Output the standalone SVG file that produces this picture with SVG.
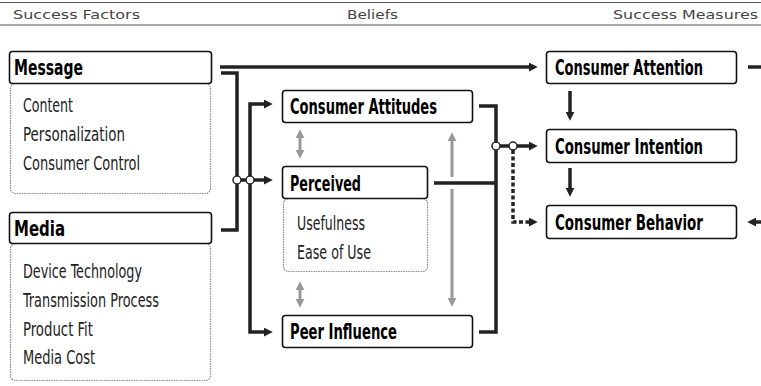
<svg xmlns="http://www.w3.org/2000/svg" width="761" height="386" viewBox="0 0 761 386">
<defs>
<marker id="ah" markerUnits="userSpaceOnUse" markerWidth="9" markerHeight="9" viewBox="0 0 8 8" refX="2" refY="4" orient="auto"><path d="M0,0 L8,4 L0,8 z" fill="#222"/></marker>
<marker id="ag" markerUnits="userSpaceOnUse" markerWidth="9" markerHeight="9" viewBox="0 0 8 8" refX="2" refY="4" orient="auto-start-reverse"><path d="M0,0 L8,4 L0,8 z" fill="#999"/></marker>
</defs>
<style>
.hd{font-family:"DejaVu Sans","Liberation Sans",sans-serif;font-size:13px;fill:#444}
.box{fill:#fff;stroke:#111;stroke-width:1.6}
.sub{fill:#fff;stroke:#888;stroke-width:1.2;stroke-dasharray:1.5 1}
.t{font-family:"DejaVu Sans Condensed","DejaVu Sans","Liberation Sans",sans-serif;font-weight:bold;font-size:16px;fill:#000}
.s{font-family:"DejaVu Sans Condensed","DejaVu Sans","Liberation Sans",sans-serif;font-size:19px;fill:#222}
.c{fill:none;stroke:#222;stroke-width:3.5}
.g{fill:none;stroke:#999;stroke-width:3}
.j{fill:#fff;stroke:#222;stroke-width:1.5}
</style>
<g id="header">
<line x1="0" y1="2.5" x2="761" y2="2.5" stroke="#555" stroke-width="1"/>
<line x1="0" y1="25" x2="761" y2="25" stroke="#555" stroke-width="1"/>
<text class="hd" x="13" y="19" textLength="127" lengthAdjust="spacingAndGlyphs">Success Factors</text>
<text class="hd" x="347" y="19" textLength="51" lengthAdjust="spacingAndGlyphs">Beliefs</text>
<text class="hd" x="613" y="19" textLength="145" lengthAdjust="spacingAndGlyphs">Success Measures</text>
</g>
<g id="connectors">
<path class="c" d="M220,67 H531" marker-end="url(#ah)"/>
<path class="c" d="M221,73 H237 V230 H221"/>
<path class="c" d="M250,180 V104 H266" marker-end="url(#ah)"/>
<path class="c" d="M250,180 V332 H266" marker-end="url(#ah)"/>
<path class="c" d="M237,180 H266" marker-end="url(#ah)"/>
<circle class="j" cx="237" cy="180" r="4"/>
<circle class="j" cx="250" cy="180" r="4"/>
<path class="c" d="M479,106 H496 V332 H479"/>
<path class="c" d="M434,183 H496"/>
<path class="c" d="M496,146 H531" marker-end="url(#ah)"/>
<path class="c" d="M513,150 V222 H531" stroke-dasharray="4 2.5" marker-end="url(#ah)"/>
<circle class="j" cx="496" cy="146" r="4"/>
<circle class="j" cx="513" cy="146" r="4"/>
<path class="c" d="M570,91 V114" marker-end="url(#ah)"/>
<path class="c" d="M570,168 V190" marker-end="url(#ah)"/>
<path class="c" d="M748,67 H761"/>
<path class="c" d="M761,222 H754" marker-end="url(#ah)"/>
<path class="g" d="M300,136 V152" marker-start="url(#ag)" marker-end="url(#ag)"/>
<path class="g" d="M300,288 V301" marker-start="url(#ag)" marker-end="url(#ag)"/>
<path class="g" d="M452,177 V139" marker-end="url(#ag)"/>
<path class="g" d="M452,189 V300" marker-end="url(#ag)"/>
</g>
<g id="message">
<rect class="sub" x="10.5" y="83.5" width="200" height="110" rx="5"/>
<rect class="box" x="9.5" y="51.5" width="202" height="32" rx="3"/>
<text class="t" transform="translate(14 75) scale(1 1.3)" textLength="69" lengthAdjust="spacingAndGlyphs">Message</text>
<text class="s" x="23" y="112" textLength="50" lengthAdjust="spacingAndGlyphs">Content</text>
<text class="s" x="23" y="141" textLength="102" lengthAdjust="spacingAndGlyphs">Personalization</text>
<text class="s" x="23" y="170" textLength="117" lengthAdjust="spacingAndGlyphs">Consumer Control</text>
</g>
<g id="media">
<rect class="sub" x="10.5" y="243.5" width="200" height="137" rx="5"/>
<rect class="box" x="9.5" y="212.5" width="202" height="31" rx="3"/>
<text class="t" transform="translate(14 236) scale(1 1.3)" textLength="51" lengthAdjust="spacingAndGlyphs">Media</text>
<text class="s" x="23" y="278" textLength="119" lengthAdjust="spacingAndGlyphs">Device Technology</text>
<text class="s" x="23" y="307" textLength="136" lengthAdjust="spacingAndGlyphs">Transmission Process</text>
<text class="s" x="23" y="336" textLength="70" lengthAdjust="spacingAndGlyphs">Product Fit</text>
<text class="s" x="23" y="364" textLength="72" lengthAdjust="spacingAndGlyphs">Media Cost</text>
</g>
<g id="attitudes">
<rect class="box" x="282.5" y="90.5" width="190" height="32" rx="3"/>
<text class="t" transform="translate(290 114) scale(1 1.3)" textLength="147" lengthAdjust="spacingAndGlyphs">Consumer Attitudes</text>
</g>
<g id="perceived">
<rect class="sub" x="283.5" y="198.5" width="144" height="73" rx="5"/>
<rect class="box" x="282.5" y="166.5" width="145" height="32" rx="3"/>
<text class="t" transform="translate(290 191) scale(1 1.3)" textLength="71" lengthAdjust="spacingAndGlyphs">Perceived</text>
<text class="s" x="297" y="230" textLength="68" lengthAdjust="spacingAndGlyphs">Usefulness</text>
<text class="s" x="297" y="259" textLength="74" lengthAdjust="spacingAndGlyphs">Ease of Use</text>
</g>
<g id="peer">
<rect class="box" x="282.5" y="315.5" width="190" height="32" rx="3"/>
<text class="t" transform="translate(290 339) scale(1 1.3)" textLength="107" lengthAdjust="spacingAndGlyphs">Peer Influence</text>
</g>
<g id="attention">
<rect class="box" x="546.5" y="51.5" width="190" height="32" rx="3"/>
<text class="t" transform="translate(555 75) scale(1 1.3)" textLength="148" lengthAdjust="spacingAndGlyphs">Consumer Attention</text>
</g>
<g id="intention">
<rect class="box" x="546.5" y="129.5" width="190" height="33" rx="3"/>
<text class="t" transform="translate(555 154) scale(1 1.3)" textLength="148" lengthAdjust="spacingAndGlyphs">Consumer Intention</text>
</g>
<g id="behavior">
<rect class="box" x="546.5" y="205.5" width="190" height="33" rx="3"/>
<text class="t" transform="translate(555 230) scale(1 1.3)" textLength="148" lengthAdjust="spacingAndGlyphs">Consumer Behavior</text>
</g>
</svg>
